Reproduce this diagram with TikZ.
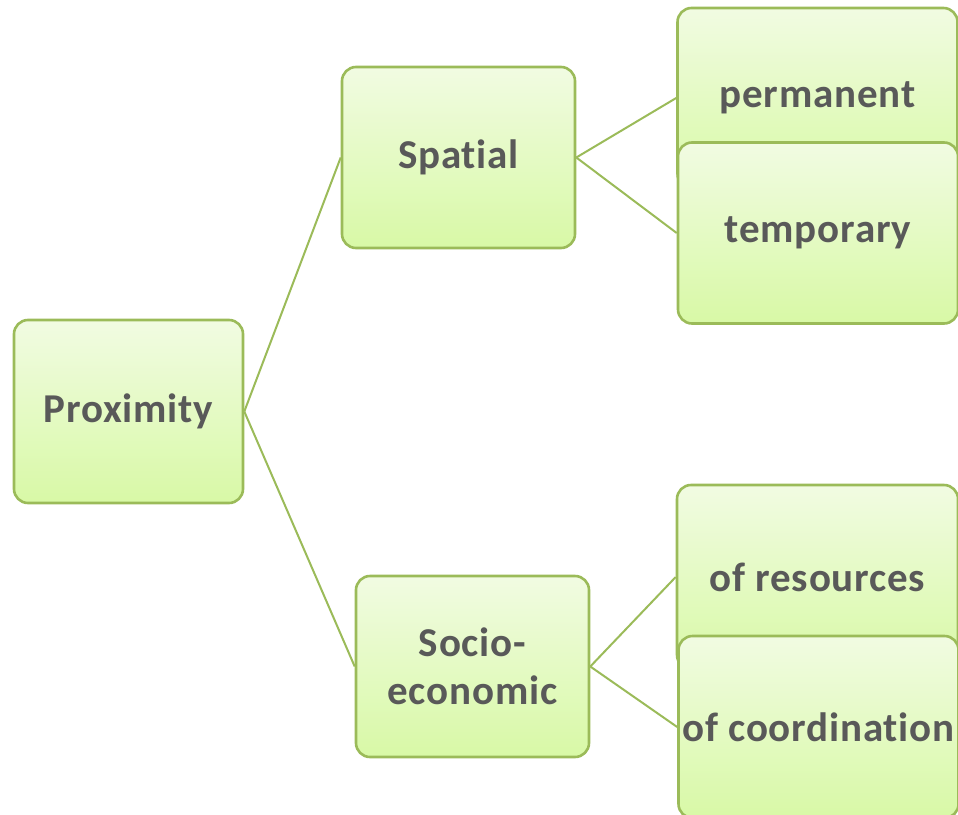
\documentclass[tikz,border=0pt]{standalone}
\usepackage{fontspec}
\setmainfont{Carlito}[Ligatures=NoCommon, LetterSpace=2]
\usepackage{xcolor}
\definecolor{boxline}{HTML}{9BBB59}
\definecolor{boxtop}{HTML}{F1FBE2}
\definecolor{boxbottom}{HTML}{D8F9A6}
\definecolor{boxtext}{HTML}{595959}

\begin{document}
\begin{tikzpicture}[x=1pt, y=-1pt,
    box/.style={draw=boxline, line width=2.6pt, rounded corners=14pt,
      top color=boxtop, bottom color=boxbottom, text=boxtext, align=center,
      font=\fontsize{41}{48}\selectfont\bfseries, inner sep=0pt},
    link/.style={draw=boxline, line width=2pt}]
  \useasboundingbox (0,0) rectangle (958,814);

  \node[box, minimum width=229pt, minimum height=183pt] (prox) at (128.5,411.5) {Proximity};
  \node[box, minimum width=233pt, minimum height=181pt] (spatial) at (458.5,157.5) {Spatial};
  \node[box, minimum width=233pt, minimum height=181pt] (socio) at (472.5,666.5) {Socio-\\economic};

  % leaves, the lower one drawn over the upper one
  \node[box, minimum width=280pt, minimum height=180pt] (perm) at (817.5,98) {permanent};
  \node[box, minimum width=280pt, minimum height=181pt] (temp) at (818,233) {temporary};
  \node[box, minimum width=281pt, minimum height=184pt] (res) at (817.5,577) {of resources};
  \node[box, minimum width=280pt, minimum height=182pt] (coord) at (818.5,727) {of coordination};

  \draw[link] (prox.east) -- (spatial.west);
  \draw[link] (prox.east) -- (socio.west);
  \draw[link] (spatial.east) -- (perm.west);
  \draw[link] (spatial.east) -- (temp.west);
  \draw[link] (socio.east) -- (res.west);
  \draw[link] (socio.east) -- (coord.west);
\end{tikzpicture}
\end{document}
